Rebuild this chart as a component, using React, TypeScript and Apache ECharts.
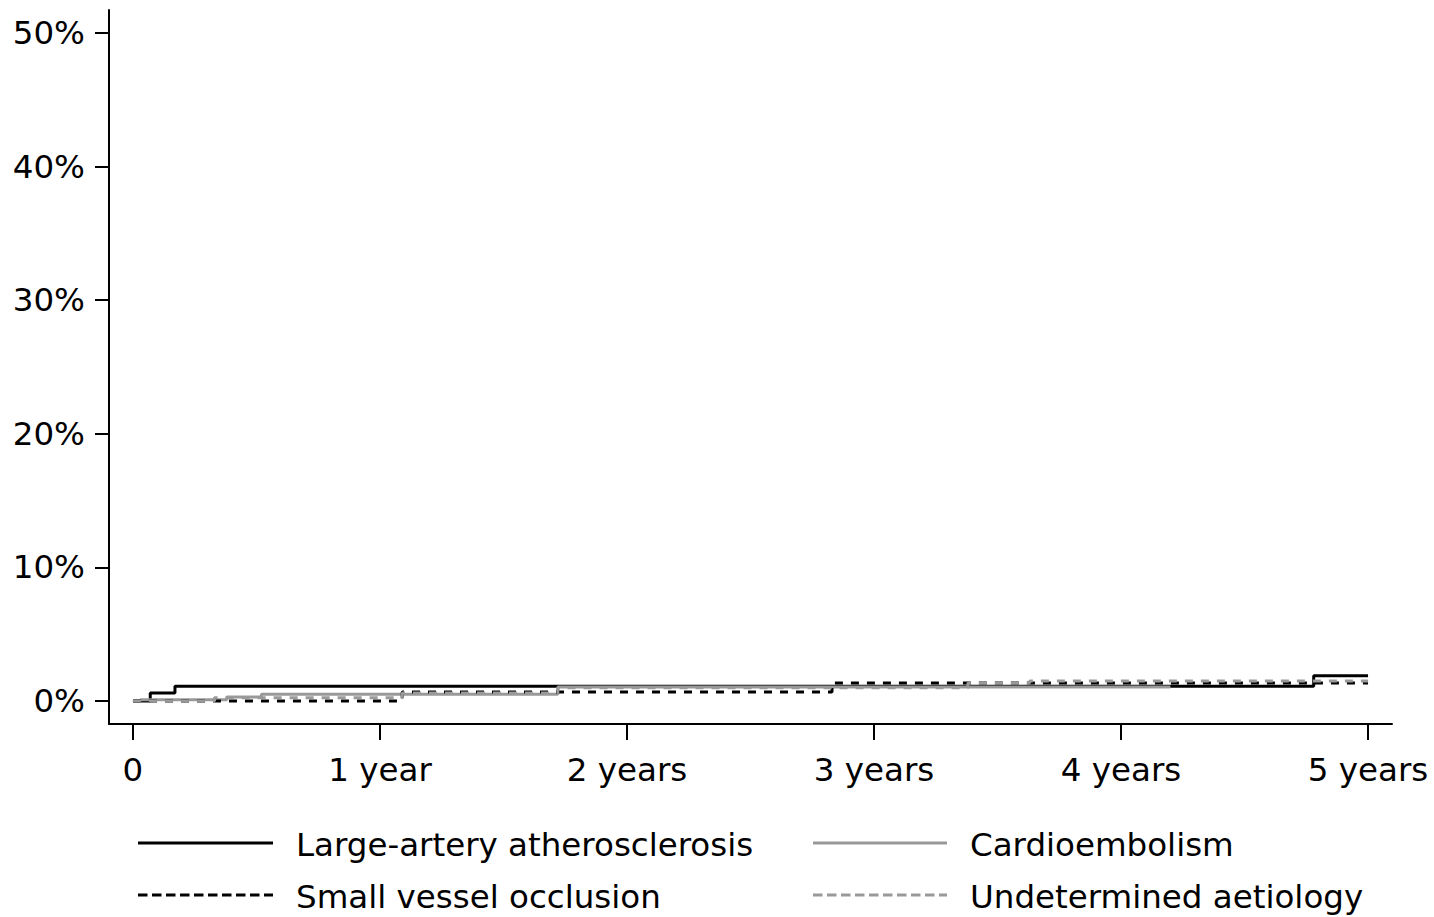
import React, { useEffect, useRef } from "react";
import * as echarts from "echarts";

// ---- Data (years, cumulative %) ----
const laaTimes = [0, 0.07, 0.17, 4.78, 5.0];
const laaValues = [0, 0.6, 1.1, 1.9, 1.9];

const ceTimes = [0, 0.03, 0.38, 0.52, 1.72, 4.2];
const ceValues = [0, 0.1, 0.3, 0.5, 1.05, 1.05];

const svoTimes = [0, 1.09, 2.83, 5.0];
const svoValues = [0, 0.67, 1.35, 1.35];

const undTimes = [0, 0.33, 1.09, 1.72, 3.38, 3.63, 5.0];
const undValues = [0, 0.25, 0.6, 1.0, 1.35, 1.5, 1.5];

const xTickValues = [0, 1, 2, 3, 4, 5];
const xTickLabels = ["0", "1 year", "2 years", "3 years", "4 years", "5 years"];
const yTickValues = [0, 10, 20, 30, 40, 50];

const seriesNames = [
  "Large-artery atherosclerosis",
  "Cardioembolism",
  "Small vessel occlusion",
  "Undetermined aetiology",
];

const FONT = "DejaVu Sans";
const FS = 32.5;
const GRAY = "#999999";

const zip = (t: number[], v: number[]) => t.map((x, i) => [x, v[i]]);

export default function App() {
  const ref = useRef<HTMLDivElement>(null);
  useEffect(() => {
    if (!ref.current) return;
    const chart = echarts.init(ref.current, undefined, { renderer: "svg" });

    const mk = (name: string, data: number[][], color: string, dashed: boolean) => ({
      name,
      type: "line",
      step: "end",
      data,
      showSymbol: false,
      symbol: "none",
      lineStyle: { color, width: 3, type: dashed ? [8, 8] : "solid" },
      z: 2,
    });

    const legendItems = [
      { x1: 138, x2: 273, y: 843, tx: 296, name: seriesNames[0], color: "#000", dash: null },
      { x1: 813, x2: 947, y: 843, tx: 970, name: seriesNames[1], color: GRAY, dash: null },
      { x1: 138, x2: 273, y: 895, tx: 296, name: seriesNames[2], color: "#000", dash: [9.5, 4.5] },
      { x1: 813, x2: 947, y: 895, tx: 970, name: seriesNames[3], color: GRAY, dash: [9.5, 4.5] },
    ];
    const graphics: any[] = [];
    legendItems.forEach((it) => {
      graphics.push({
        type: "line",
        shape: { x1: it.x1, y1: it.y, x2: it.x2, y2: it.y },
        style: { stroke: it.color, lineWidth: 3, lineDash: it.dash || undefined },
      });
      graphics.push({
        type: "text",
        x: it.tx,
        y: it.y + 2,
        style: {
          text: it.name,
          fill: "#000",
          font: `${FS}px "${FONT}"`,
          textVerticalAlign: "middle",
          verticalAlign: "middle",
        },
      });
    });

    chart.setOption({
      animation: false,
      backgroundColor: "#fff",
      grid: { left: 109, right: 42, top: 10, bottom: 193, containLabel: false },
      xAxis: {
        type: "value",
        min: -0.097,
        max: 5.097,
        axisLine: { show: true, onZero: false, lineStyle: { color: "#000", width: 2 } },
        axisTick: {
          show: true,
          length: 16,
          lineStyle: { color: "#000", width: 2 },
          customValues: xTickValues,
        },
        axisLabel: {
          show: true,
          customValues: xTickValues,
          formatter: (v: number) => {
            const i = xTickValues.indexOf(Math.round(v));
            return i >= 0 ? xTickLabels[i] : "";
          },
          color: "#000",
          fontSize: FS,
          fontFamily: FONT,
          margin: 29,
        },
        splitLine: { show: false },
      },
      yAxis: {
        type: "value",
        min: -1.72,
        max: 51.72,
        axisLine: { show: true, onZero: false, lineStyle: { color: "#000", width: 2 } },
        axisTick: {
          show: true,
          length: 14,
          lineStyle: { color: "#000", width: 2 },
          customValues: yTickValues,
        },
        axisLabel: {
          show: true,
          customValues: yTickValues,
          formatter: (v: number) => `${Math.round(v)}%`,
          color: "#000",
          fontSize: FS,
          fontFamily: FONT,
          margin: 24,
        },
        splitLine: { show: false },
      },
      graphic: graphics,
      series: [
        mk(seriesNames[0], zip(laaTimes, laaValues), "#000", false),
        mk(seriesNames[1], zip(ceTimes, ceValues), GRAY, false),
        mk(seriesNames[2], zip(svoTimes, svoValues), "#000", true),
        mk(seriesNames[3], zip(undTimes, undValues), GRAY, true),
      ],
    });
    return () => chart.dispose();
  }, []);

  return (
    <div
      ref={ref}
      style={{ position: "fixed", left: 0, top: 0, width: 1434, height: 917, background: "#fff" }}
    />
  );
}
